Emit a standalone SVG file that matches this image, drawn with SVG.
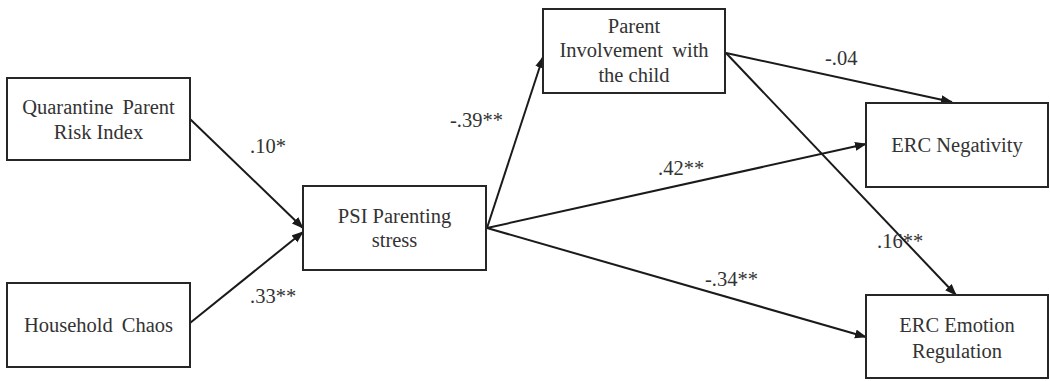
<svg xmlns="http://www.w3.org/2000/svg" width="1050" height="381" viewBox="0 0 1050 381">
<style>
.box{fill:#fff;stroke:#262626;stroke-width:2}
.t{font-family:"Liberation Serif","Times New Roman",serif;font-size:20.5px;fill:#333;text-anchor:middle}
.lbl{font-family:"Liberation Serif","Times New Roman",serif;font-size:20.5px;fill:#333}
.edge{stroke:#1a1a1a;stroke-width:2;fill:none;marker-end:url(#ah)}
</style>
<defs>
<marker id="ah" markerUnits="userSpaceOnUse" markerWidth="12" markerHeight="10" refX="11" refY="4.5" orient="auto">
<path d="M0,0 L12,4.5 L0,9 z" fill="#1a1a1a"/>
</marker>
</defs>
<rect width="1050" height="381" fill="#fff"/>
<g id="connectors">
<line class="edge" x1="190" y1="119" x2="303" y2="228"/>
<line class="edge" x1="190" y1="323" x2="303" y2="232"/>
<line class="edge" x1="487" y1="228" x2="543" y2="57"/>
<line class="edge" x1="487" y1="228" x2="866" y2="144"/>
<line class="edge" x1="487" y1="228" x2="866" y2="337"/>
<line class="edge" x1="726" y1="53" x2="952" y2="102"/>
<line class="edge" x1="726" y1="53" x2="956" y2="295"/>
</g>
<g id="labels">
<text class="lbl" x="250" y="153">.10*</text>
<text class="lbl" x="250" y="303">.33**</text>
<text class="lbl" x="450" y="127">-.39**</text>
<text class="lbl" x="825" y="65">-.04</text>
<text class="lbl" x="658" y="175">.42**</text>
<text class="lbl" x="705" y="286">-.34**</text>
<text class="lbl" x="877" y="248">.16**</text>
</g>
<g id="node-quarantine">
<rect class="box" x="7" y="78" width="183" height="82"/>
<text class="t" x="98.5" y="114" word-spacing="4">Quarantine Parent</text>
<text class="t" x="98.5" y="139">Risk Index</text>
</g>
<g id="node-chaos">
<rect class="box" x="7" y="283" width="183" height="84"/>
<text class="t" x="98.5" y="332" word-spacing="4">Household Chaos</text>
</g>
<g id="node-psi">
<rect class="box" x="303" y="186" width="183" height="84"/>
<text class="t" x="394.5" y="223">PSI Parenting</text>
<text class="t" x="394.5" y="247">stress</text>
</g>
<g id="node-involvement">
<rect class="box" x="543" y="9" width="182" height="84"/>
<text class="t" x="634" y="33">Parent</text>
<text class="t" x="634" y="57" word-spacing="4">Involvement with</text>
<text class="t" x="634" y="82">the child</text>
</g>
<g id="node-negativity">
<rect class="box" x="866" y="103" width="182" height="84"/>
<text class="t" x="957" y="152">ERC Negativity</text>
</g>
<g id="node-regulation">
<rect class="box" x="866" y="295" width="182" height="83"/>
<text class="t" x="957" y="332">ERC Emotion</text>
<text class="t" x="957" y="358">Regulation</text>
</g>
</svg>
